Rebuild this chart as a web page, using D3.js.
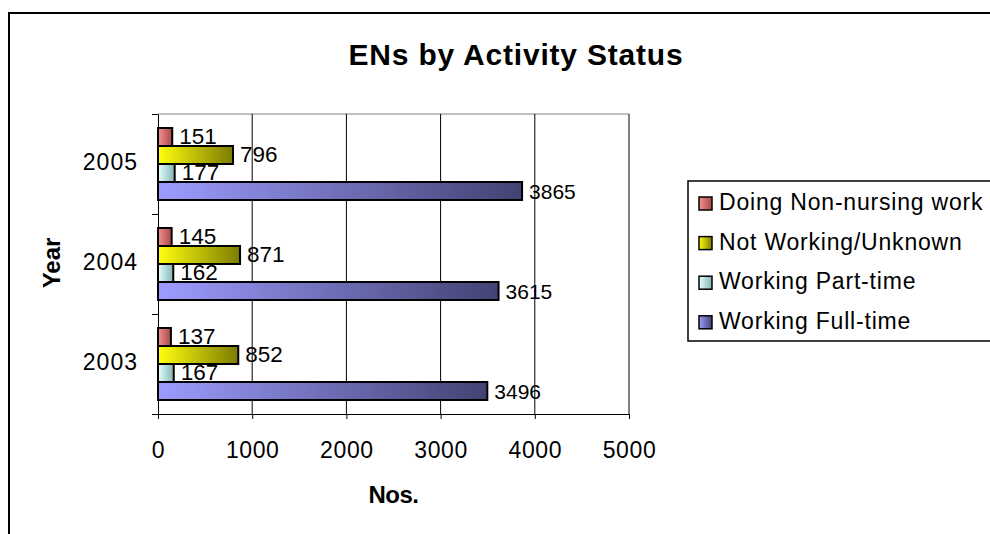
<!DOCTYPE html>
<html>
<head>
<meta charset="utf-8">
<script src="https://cdn.jsdelivr.net/npm/d3@7"></script>
<style>
  body { margin: 0; background: #fff; }
  text { font-family: "Liberation Sans", Arial, sans-serif; fill: #000; }
</style>
</head>
<body>
<script>
// Chart data
const years = ["2003", "2004", "2005"];
const seriesNames = ["Doing Non-nursing work", "Not Working/Unknown", "Working Part-time", "Working Full-time"];
const nonNursing = [137, 145, 151];
const notWorking = [852, 871, 796];
const partTime = [167, 162, 177];
const fullTime = [3496, 3615, 3865];
const xTicks = [0, 1000, 2000, 3000, 4000, 5000];

const seriesValues = [nonNursing, notWorking, partTime, fullTime];
const seriesColors = [["#f49090", "#a84848"], ["#ffff10", "#7c7c00"], ["#e4ffff", "#84b4b4"], ["#9c9cff", "#424272"]];

const canvWidth = 990, canvHeight = 534;
const svg = d3.select("body").append("svg")
    .attr("width", canvWidth)
    .attr("height", canvHeight);

// outer chart frame
svg.append("rect")
    .attr("x", 9).attr("y", 13)
    .attr("width", 1000).attr("height", 540)
    .attr("fill", "none")
    .attr("stroke", "#000")
    .attr("stroke-width", 2);

// gradients for the bar fills
const defs = svg.append("defs");
seriesColors.forEach(function(c, i) {
    const g = defs.append("linearGradient")
        .attr("id", "grad" + i)
        .attr("x1", "0%").attr("x2", "100%")
        .attr("y1", "0%").attr("y2", "0%");
    g.append("stop").attr("offset", "0%").attr("stop-color", c[0]);
    g.append("stop").attr("offset", "100%").attr("stop-color", c[1]);
});

const plot = {left: 158, top: 114, right: 629, bottom: 414};

const xScale = d3.scaleLinear()
    .domain([0, 5000])
    .range([plot.left, plot.right]);

const yScale = d3.scaleBand()
    .domain(years.slice().reverse())
    .range([plot.top, plot.bottom]);

const barScale = d3.scaleBand()
    .domain(seriesNames)
    .range([14, yScale.bandwidth() - 14]);

// category boundaries for the y tick marks
const yTickScale = d3.scaleLinear()
    .domain([0, years.length])
    .range([plot.bottom, plot.top]);

// Title
svg.append("text")
    .attr("x", 516)
    .attr("y", 65)
    .attr("font-size", "30px")
    .attr("font-weight", "bold")
    .attr("letter-spacing", "0.8px")
    .style("text-anchor", "middle")
    .text("ENs by Activity Status");

// plot area border (top) and gridlines
svg.append("line")
    .attr("x1", plot.left).attr("x2", plot.right)
    .attr("y1", plot.top).attr("y2", plot.top)
    .attr("stroke", "#808080");

svg.selectAll(".grid")
    .data(xTicks.slice(1))
    .enter().append("line")
    .attr("class", "grid")
    .attr("x1", d => xScale(d)).attr("x2", d => xScale(d))
    .attr("y1", plot.top).attr("y2", plot.bottom)
    .attr("stroke", "#000");

// x axis
const xAxisG = svg.append("g")
    .attr("transform", "translate(0," + plot.bottom + ")")
    .call(d3.axisBottom(xScale).tickValues(xTicks).tickFormat(d3.format("d"))
        .tickSize(5).tickSizeOuter(0).tickPadding(23));
xAxisG.select(".domain").attr("stroke", "#000");
xAxisG.selectAll(".tick line").attr("stroke", "#000");
xAxisG.selectAll("text")
    .attr("font-family", "\"Liberation Sans\", Arial, sans-serif")
    .attr("font-size", "23px")
    .attr("letter-spacing", "0.6px")
    .attr("fill", "#000");

// y axis (ticks between categories)
const yAxisG = svg.append("g")
    .attr("transform", "translate(" + plot.left + ",0)")
    .call(d3.axisLeft(yTickScale).ticks(years.length).tickFormat("").tickSize(6).tickSizeOuter(0));
yAxisG.select(".domain").attr("stroke", "#000");
yAxisG.selectAll(".tick line").attr("stroke", "#000");

// year labels
svg.selectAll(".year")
    .data(years)
    .enter().append("text")
    .attr("class", "year")
    .attr("x", 138)
    .attr("y", d => yScale(d) + yScale.bandwidth() / 2 + 6)
    .attr("font-size", "23px")
    .attr("letter-spacing", "1px")
    .style("text-anchor", "end")
    .text(d => d);

// bars
const groups = svg.selectAll(".yearGroup")
    .data(years)
    .enter().append("g")
    .attr("class", "yearGroup")
    .attr("transform", d => "translate(0," + yScale(d) + ")");

groups.each(function(year, yi) {
    const g = d3.select(this);
    const rows = seriesNames.map((name, si) => ({name: name, si: si, value: seriesValues[si][yi]}));

    g.selectAll("rect")
        .data(rows)
        .enter().append("rect")
        .attr("x", xScale(0))
        .attr("y", d => barScale(d.name))
        .attr("width", d => xScale(d.value) - xScale(0))
        .attr("height", barScale.bandwidth())
        .attr("fill", d => "url(#grad" + d.si + ")")
        .attr("stroke", "#000")
        .attr("stroke-width", 2);

    g.selectAll(".lbl")
        .data(rows)
        .enter().append("text")
        .attr("class", "lbl")
        .attr("x", d => xScale(d.value) + 7)
        .attr("y", d => barScale(d.name) + barScale.bandwidth() / 2 + (d.si === 3 ? 7.5 : 7))
        .attr("font-size", d => d.si === 3 ? "21px" : "22.5px")
        .text(d => d.value);
});

// axis titles
svg.append("text")
    .attr("x", (plot.left + plot.right) / 2)
    .attr("y", 503)
    .attr("font-size", "24px")
    .attr("font-weight", "bold")
    .attr("letter-spacing", "-0.5px")
    .style("text-anchor", "middle")
    .text("Nos.");

svg.append("text")
    .attr("transform", "rotate(-90)")
    .attr("x", -263)
    .attr("y", 60)
    .attr("font-size", "24px")
    .attr("font-weight", "bold")
    .style("text-anchor", "middle")
    .text("Year");

// legend
const legend = svg.append("g");
legend.append("rect")
    .attr("x", 688).attr("y", 181)
    .attr("width", 320).attr("height", 160)
    .attr("fill", "#fff")
    .attr("stroke", "#000")
    .attr("stroke-width", 1.5);

const legendItems = legend.selectAll(".item")
    .data(seriesNames)
    .enter().append("g")
    .attr("class", "item")
    .attr("transform", (d, i) => "translate(0," + (210 + i * 39.6) + ")");

legendItems.append("rect")
    .attr("x", 699).attr("y", -13)
    .attr("width", 13).attr("height", 13)
    .attr("fill", (d, i) => "url(#grad" + i + ")")
    .attr("stroke", "#000")
    .attr("stroke-width", 1.5);

legendItems.append("text")
    .attr("x", 719)
    .attr("y", 0)
    .attr("font-size", "23px")
    .attr("letter-spacing", "0.8px")
    .text(d => d);
</script>
</body>
</html>
